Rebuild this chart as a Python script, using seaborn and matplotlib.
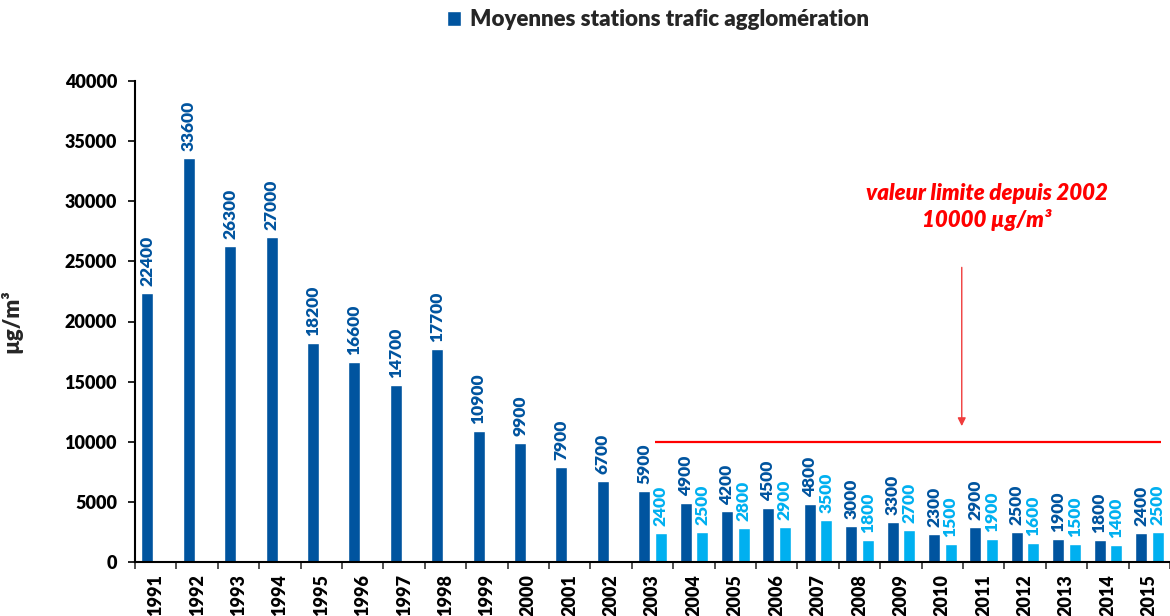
import matplotlib
matplotlib.use("Agg")
import matplotlib.pyplot as plt
import seaborn as sns
import pandas as pd
from matplotlib.patches import Patch

# Années et concentrations moyennes (µg/m³)
annees = [str(a) for a in range(1991, 2016)]
moyennes_agglo = [22400, 33600, 26300, 27000, 18200, 16600, 14700, 17700,
                  10900, 9900, 7900, 6700, 5900, 4900, 4200, 4500, 4800,
                  3000, 3300, 2300, 2900, 2500, 1900, 1800, 2400]
annees_serie2 = [str(a) for a in range(2003, 2016)]
moyennes_serie2 = [2400, 2500, 2800, 2900, 3500, 1800, 2700, 1500, 1900,
                   1600, 1500, 1400, 2500]
valeur_limite = 10000

nom_agglo = "Moyennes stations trafic agglomération"
nom_serie2 = "Série 2"

bleu_fonce = "#00549F"
bleu_clair = "#00B0F0"
rouge = "#FF0000"
poids = "heavy"

df = pd.concat([
    pd.DataFrame({"annee": annees, "valeur": moyennes_agglo, "serie": nom_agglo}),
    pd.DataFrame({"annee": annees_serie2, "valeur": moyennes_serie2, "serie": nom_serie2}),
], ignore_index=True)

sns.set_theme(style="white")
plt.rcParams["font.family"] = ["Lato", "DejaVu Sans"]
plt.rcParams["font.weight"] = poids

fig = plt.figure(figsize=(11.7, 6.16), dpi=100)
ax = fig.add_axes([135 / 1170, 1 - 562 / 616, 1035 / 1170, (562 - 81) / 616])

sns.barplot(data=df, x="annee", y="valeur", hue="serie", order=annees,
            hue_order=[nom_agglo, nom_serie2], palette=[bleu_fonce, bleu_clair],
            width=0.8, gap=0.28, saturation=1, legend=False, ax=ax)

for cont, col in zip(ax.containers, [bleu_fonce, bleu_clair]):
    ax.bar_label(cont, fmt="%d", rotation=90, padding=5, color=col,
                 fontsize=12.5, fontweight=poids)

ax.set_ylim(0, 40000)
ax.set_xlim(-0.5, len(annees) - 0.5)
ax.set_yticks(range(0, 40001, 5000))
ax.set_xlabel("")
ax.set_ylabel("µg/m³", fontsize=16, fontweight=poids, labelpad=30)

for s in ["top", "right"]:
    ax.spines[s].set_visible(False)
for s in ["left", "bottom"]:
    ax.spines[s].set_color("black")
    ax.spines[s].set_linewidth(1.5)

ax.tick_params(axis="y", which="major", left=True, length=5, width=1.2,
               color="black", pad=8, labelsize=13)
ax.tick_params(axis="x", which="major", bottom=False, length=0, pad=9,
               labelsize=13, labelrotation=90)
ax.set_xticks([i - 0.5 for i in range(len(annees) + 1)], minor=True)
ax.tick_params(axis="x", which="minor", bottom=True, length=5, width=1.2,
               color="#333333")
for lab in ax.get_xticklabels() + ax.get_yticklabels():
    lab.set_fontweight(poids)
    lab.set_color("black")
for lab in ax.get_xticklabels():
    lab.set_va("top")

# Valeur limite
i0 = annees.index("2003")
ax.plot([i0 + 0.05, len(annees) - 0.72], [valeur_limite, valeur_limite],
        color=rouge, lw=1.6, solid_capstyle="butt")
x_fleche = annees.index("2010") + 0.47
ax.annotate("", xy=(x_fleche, 11300), xytext=(x_fleche, 24500),
            arrowprops=dict(arrowstyle="-|>", color="#F03C3C", lw=1.0,
                            mutation_scale=12, shrinkA=0, shrinkB=0))
ax.text(x_fleche + 0.6, 29500, "valeur limite depuis 2002\n10000 µg/m³",
        color=rouge, fontsize=16, fontweight=poids, fontstyle="italic",
        ha="center", va="center", linespacing=1.3)

# Légende
fig.legend(handles=[Patch(facecolor=bleu_fonce, label=nom_agglo)],
           loc="center", bbox_to_anchor=(658 / 1170, 1 - 20 / 616),
           frameon=False, handlelength=0.63, handleheight=0.63,
           handletextpad=0.45, prop={"weight": poids, "size": 16})

fig.savefig("out.png", dpi=100)
